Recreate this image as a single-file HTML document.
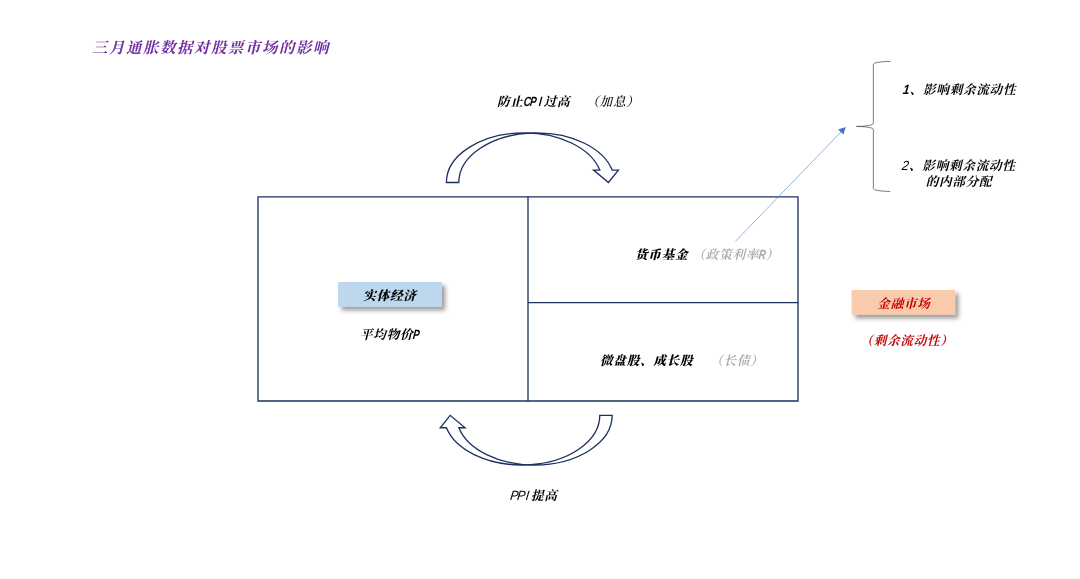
<!DOCTYPE html>
<html lang="zh-CN">
<head>
<meta charset="utf-8">
<title>三月通胀数据对股票市场的影响</title>
<style>
html,body{margin:0;padding:0;background:#fff;}
body{width:1080px;height:579px;position:relative;overflow:hidden;
  font-family:"Liberation Sans","Noto Serif CJK SC",serif;}
svg.shapes{position:absolute;left:0;top:0;width:1080px;height:579px;}
.t{position:absolute;will-change:transform;white-space:nowrap;font-size:12.6px;letter-spacing:.73px;line-height:16px;
  font-style:italic;font-weight:700;color:#000;}
.b{font-weight:900;}
.t i{display:inline-flex;justify-content:center;width:6.67px;font-size:13.33px;letter-spacing:0;font-style:italic;font-weight:700;transform:skewX(-7deg) scaleX(.74);}
.t i.n{transform:skewX(-7deg) scaleX(.88);}
.t i.r{font-weight:400;transform:skewX(-7deg) scaleX(.92);}
.title{font-size:15.4px;letter-spacing:1.6px;color:#7030A0;line-height:20px;font-weight:700;}
.gray{color:#A6A6A6;font-weight:600;}
.red{color:#C00000;font-weight:700;}
.c{text-align:center;}
</style>
</head>
<body>
<svg class="shapes" viewBox="0 0 1080 579" fill="none">
  <defs>
    <filter id="sh" x="-20%" y="-50%" width="140%" height="220%">
      <feDropShadow dx="3.5" dy="3.5" stdDeviation="2.25" flood-color="#000" flood-opacity="0.39"/>
    </filter>
  </defs>
  <rect x="338.1" y="282" width="103.6" height="24.9" fill="#BDD7EE" filter="url(#sh)"/>
  <rect x="851.6" y="290" width="103.45" height="24.85" fill="#F8CBAD" filter="url(#sh)"/>
  <g stroke="#1D315E" stroke-width="1.33" stroke-linejoin="miter">
    <path d="M258 196.85H798V401H258Z"/>
    <line x1="528" y1="196.85" x2="528" y2="401"/>
    <line x1="528" y1="302.67" x2="798" y2="302.67"/>
    <path transform="translate(446.4 132.85)" d="M84.12 0.16A77.92 49.65 0 0 0 12.41 49.65L0 49.65A77.92 49.65 0 0 1 77.92 0L90.33 0A77.92 49.65 0 0 1 165.77 37.24L171.98 37.24L162.04 49.65L147.15 37.24L153.36 37.24A77.92 49.65 0 0 0 77.92 0"/>
    <path transform="translate(612.2 465) rotate(180)" d="M84.12 0.16A77.92 49.65 0 0 0 12.41 49.65L0 49.65A77.92 49.65 0 0 1 77.92 0L90.33 0A77.92 49.65 0 0 1 165.77 37.24L171.98 37.24L162.04 49.65L147.15 37.24L153.36 37.24A77.92 49.65 0 0 0 77.92 0"/>
  </g>
  <path d="M890.3 191.45A16.95 2.82 0 0 1 873.35 188.63L873.35 129.27A16.95 2.82 0 0 0 856.4 126.45A16.95 2.82 0 0 0 873.35 123.63L873.35 64.27A16.95 2.82 0 0 1 890.3 61.45" stroke="#505050" stroke-width="0.75"/>
  <line x1="735.3" y1="241.5" x2="842" y2="130.9" stroke="#4472C4" stroke-width="0.55"/>
  <polygon points="845.8,127 838.1,129.4 843.4,134.5" fill="#4472C4"/>
</svg>

<div class="t title" style="left:92px;top:38px;">三月通胀数据对股票市场的影响</div>

<div class="t" style="left:497px;top:94px;">防止<i>C</i><i>P</i><i>I</i>过高<span style="display:inline-block;width:16px"></span><span style="font-weight:500">（加息）</span></div>

<div class="t c b" style="left:338px;top:288px;width:104px;">实体经济</div>
<div class="t" style="left:360px;top:327px;">平均物价<i>P</i></div>

<div class="t" style="left:635px;top:247px;"><span class="b">货币基金</span><span class="gray"> （政策利率<i>R</i>）</span></div>
<div class="t" style="left:600px;top:353px;"><span class="b">微盘股、成长股</span><span class="gray"><span style="display:inline-block;width:17px"></span>（长债）</span></div>

<div class="t c red b" style="left:852px;top:296px;width:104px;">金融市场</div>
<div class="t c red b" style="left:855px;top:333px;width:104px;">（剩余流动性）</div>

<div class="t" style="left:903px;top:82px;"><i class="n">1</i>、影响剩余流动性</div>
<div class="t c" style="left:902px;top:158px;width:114px;"><i class="n r">2</i>、影响剩余流动性<br>的内部分配</div>

<div class="t" style="left:511px;top:488px;"><i class="r">P</i><i class="r">P</i><i class="r">I</i>提高</div>
</body>
</html>
